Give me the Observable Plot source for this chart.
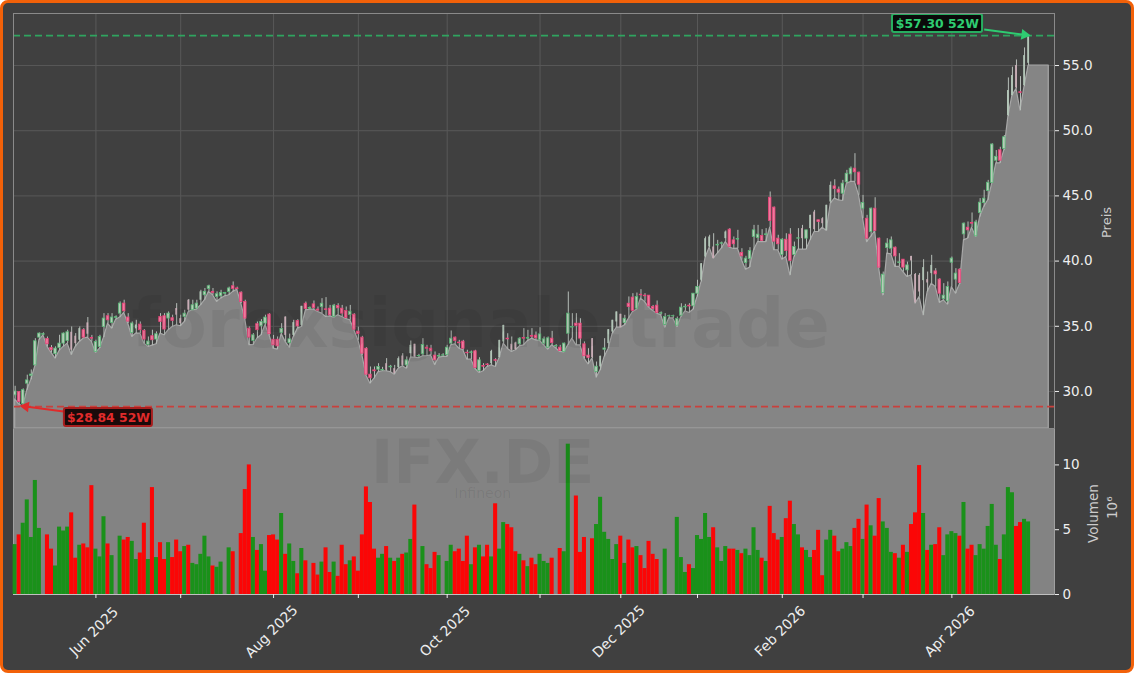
<!DOCTYPE html>
<html><head><meta charset="utf-8">
<script src="https://cdn.jsdelivr.net/npm/d3@7"></script>
<script src="https://cdn.jsdelivr.net/npm/@observablehq/plot@0.6"></script>
<style>
html,body{margin:0;padding:0;background:#fff}
#chart{position:relative;width:1134px;height:673px;background:#404040;border:3px solid #f26109;border-radius:8px;box-sizing:border-box;overflow:hidden}
#chart svg{position:absolute;left:-3px;display:block;max-width:none}
</style></head><body><div id="chart"></div>
<script>
const opens=[29.7,29.95,29.05,30.6,31.2,32,34.13,34.35,34.03,33.34,
32.86,33.34,33.67,33.88,34.54,34.24,33.93,34.7,35.26,34.1,
33.03,33.42,34.95,35.77,35.26,35.65,35.97,36.74,35.67,34.49,
34.8,35.13,34.65,33.57,34.24,33.98,35.72,35.77,35.59,35.62,
36.36,35.59,35.72,37.0,36.23,36.36,37.0,37.38,37.87,37.64,
37.25,37.3,37.5,37.64,38.07,37.9,37.58,36.87,34.82,33.88,
35.16,35.0,35.21,35.9,33.97,33.97,34.5,35.71,33.7,34.3,
35.4,35.07,36.73,36.35,36.68,36.28,36.48,36.3,36.35,35.71,
36.55,36.35,36.17,35.87,35.89,34.59,34.13,33.28,31.29,31.62,
31.67,31.62,32.13,31.85,31.75,31.83,32.72,32.0,32.9,33.62,
32.7,32.85,33.36,33.28,32.75,32.68,32.75,32.8,33.67,34.13,
33.75,33.82,32.97,32.96,33.08,31.57,31.95,32.07,32.13,32.4,
32.59,33.8,34.05,33.62,33.72,33.62,34.1,34.05,34.25,34.28,
33.92,33.67,33.36,34.05,33.46,33.36,33.03,34.43,34.9,35.2,
35.2,33.62,32.75,34.05,31.5,31.88,33.2,33.67,34.56,35.33,
35.92,35.25,36.73,37.2,36.35,37.42,37.35,37.35,36.48,36.58,
35.97,35.1,35.76,35.76,35.05,35.81,36.45,36.58,36.53,37.5,
38.53,40.31,41.08,41.08,41.2,41.33,41.72,42.41,41.59,41.65,
40.62,39.85,40.16,41.85,41.77,41.92,42.0,44.86,44.1,41.72,
40.47,41.64,42.03,40.47,41.72,42.49,41.72,42.49,43.76,43.13,
43.25,42.36,44.53,45.73,45.48,45.17,46.04,46.65,47.09,46.78,
44.02,43.25,42.23,44.02,41.72,37.55,41.0,40.95,41.03,39.85,
40.11,39.29,40.36,38.98,38.91,38.5,38.58,39.04,39.21,38.58,
37.09,36.91,39.88,38.58,39.34,42.05,42.56,42.92,41.9,43.69,
44.45,45.37,46.0,47.7,48.5,48.6,51.16,52.69,55.0,52.95,53.46,55.17];
const closes=[30.0,29.2,30.1,30.85,31.3,33.85,34.44,34.4,33.62,33.16,
33.29,33.67,34.44,34.54,33.16,33.67,34.82,34.13,34.39,34.05,
33.8,34.18,35.59,35.46,35.67,35.7,36.74,36.15,35.36,35.21,
35.1,34.7,33.98,33.83,33.93,34.39,35.33,34.75,35.97,35.41,
35.85,35.21,35.97,36.23,36.61,36.74,37.64,37.64,38.07,37.56,
37.46,37.56,37.55,37.9,37.87,37.85,36.87,35.59,34.13,34.31,
34.7,35.33,35.67,34.39,33.54,33.46,34.8,34.3,34.0,35.28,
34.99,36.53,36.32,36.4,36.4,36.2,36.73,36.25,35.84,36.58,
36.38,35.97,35.64,36.12,34.74,34.41,32.9,31.29,31.01,31.55,
31.88,31.65,31.62,31.9,31.37,32.52,32.0,32.39,33.54,32.65,
32.72,33.56,33.28,33.08,32.39,32.72,32.77,33.36,34.05,33.87,
33.7,33.28,32.93,33.0,31.8,32.39,31.9,32.02,33.08,32.35,
33.92,35.07,34.0,33.16,33.21,34.05,34.05,34.1,34.2,34.08,
34.38,34.0,34.08,33.72,33.48,33.1,33.67,35.97,34.95,35.02,
34.05,32.7,32.58,32.59,31.9,32.7,33.3,34.74,35.46,36.1,
34.89,35.58,36.48,36.17,37.25,37.38,37.3,36.53,36.33,36.02,
36.0,35.71,35.78,35.78,35.56,36.43,36.5,36.52,37.5,38.01,
39.8,41.72,41.85,40.19,41.25,41.37,42.23,41.08,41.29,41.7,
40.37,40.19,40.77,42.36,42.03,41.54,42.05,43.07,41.49,41.29,
41.64,40.77,40.01,41.08,41.75,41.72,42.36,43.51,42.41,43.0,
42.87,44.28,45.81,45.53,45.25,45.94,46.7,47.09,46.81,45.86,
44.45,41.72,44.02,42.31,39.5,38.96,41.34,41.59,40.36,39.9,
39.5,39.67,40.01,36.79,37.63,39.5,38.32,39.67,38.98,37.5,
37.35,38.01,40.19,39.04,38.32,42.87,42.36,42.87,42.97,44.48,
44.79,46.01,48.94,48.0,47.7,49.5,53.08,54.23,53.28,52.9,55.76,57.22];
const highs=[30.4,30.0,30.2,31.25,31.65,34.05,34.49,34.5,34.18,33.52,
33.42,34.31,34.49,34.7,34.95,34.44,34.95,34.82,35.67,34.3,
33.93,34.31,35.97,35.97,35.97,35.8,36.87,37.0,35.97,35.33,
35.46,35.33,34.75,34.18,34.7,34.57,35.97,35.97,36.1,35.85,
36.74,35.85,36.23,37.05,37.0,37.0,37.76,37.9,38.15,37.9,
37.64,37.76,37.6,38.0,38.4,38.0,37.64,37.0,34.95,34.44,
35.33,35.51,35.85,35.97,34.3,34.18,35.2,35.71,34.4,35.46,
35.51,36.53,36.86,36.48,36.94,36.48,37.12,37.2,36.6,36.68,
36.73,36.6,36.48,36.6,35.97,34.94,34.23,33.36,31.88,31.88,
32.13,31.85,32.52,32.0,32.0,32.65,32.9,32.65,33.87,33.62,
32.85,34.05,33.54,33.54,33.03,32.9,32.9,33.54,34.64,34.18,
33.92,33.92,33.16,33.1,33.16,32.59,32.13,32.13,33.16,32.52,
33.92,35.07,34.43,34.18,33.78,34.13,34.82,34.69,34.82,34.56,
34.89,34.18,34.18,34.61,33.6,33.54,33.72,37.63,35.97,35.97,
35.58,33.8,33.28,34.05,32.26,32.7,34.05,34.74,35.46,36.1,
35.92,35.84,37.25,37.5,37.55,37.81,37.5,37.35,36.6,36.94,
36.1,35.97,35.85,35.85,35.71,36.73,36.68,36.73,37.5,38.53,
39.8,41.85,41.98,42.1,41.59,41.46,42.31,42.49,41.85,42.36,
40.95,40.37,41.03,42.74,42.74,42.41,42.49,45.3,44.15,41.98,
41.72,42.1,42.49,41.46,42.49,42.74,42.36,43.51,43.89,43.13,
43.33,44.28,46.07,46.24,45.68,46.19,46.96,47.22,48.24,46.83,
45.04,43.51,44.07,44.86,41.77,39.16,41.72,41.85,41.08,40.57,
40.11,39.92,40.36,39.04,39.04,40.11,39.16,40.44,39.42,38.65,
38.27,38.4,40.31,39.42,39.42,42.92,43.0,43.69,43.13,44.79,
45.43,46.19,49.0,48.48,48.73,49.63,54.05,54.87,55.43,54.15,56.35,57.3];
const lows=[29.4,29.0,28.84,30.1,30.9,31.95,33.93,34.3,33.42,32.96,
32.52,33.11,33.42,33.67,32.8,33.42,33.8,34.06,34.13,33.8,
32.96,33.29,34.13,35.21,34.82,35.5,35.67,36.03,35.21,34.18,
34.44,34.44,33.67,33.42,33.52,33.62,34.44,34.31,34.7,34.95,
35.08,35.0,35.33,36.1,36.23,36.28,36.61,37.0,37.64,37.38,
36.87,37.12,37.3,37.38,37.64,37.8,36.74,35.51,33.55,33.55,
34.06,34.31,35.08,34.31,33.28,33.21,34.4,33.79,33.36,34.18,
34.82,34.94,36.22,36.27,36.27,36.1,35.97,35.71,35.76,35.66,
35.84,35.71,35.56,35.46,34.69,33.92,32.77,31.21,30.6,30.98,
31.49,31.55,31.55,31.49,31.29,31.75,31.93,31.75,32.59,32.59,
32.55,32.7,32.7,32.77,32.03,32.59,32.65,32.65,33.54,33.62,
33.28,33.16,32.44,32.44,31.72,31.42,31.55,31.88,32.0,31.88,
32.59,33.67,33.28,33.03,33.16,33.46,33.54,33.87,34.05,33.92,
33.87,33.54,33.21,33.54,33.3,33.03,33.0,33.54,34.05,33.54,
33.54,32.52,32.08,32.52,31.06,31.62,32.65,33.28,34.43,34.89,
34.89,35.07,35.58,36.1,36.27,37.12,36.86,36.43,36.17,35.97,
35.85,34.89,35.6,35.6,34.94,35.71,36.15,36.02,36.27,37.25,
38.4,40.26,41.03,40.19,40.57,40.95,41.46,41.03,40.93,40.95,
40.06,39.34,39.5,40.83,41.46,41.46,41.46,42.56,40.83,40.83,
40.11,40.31,38.91,40.31,40.88,40.88,40.88,41.59,42.23,42.23,
42.56,42.31,44.4,44.79,44.66,44.61,45.94,46.07,46.07,45.04,
43.25,41.46,41.85,42.31,39.42,37.37,40.57,40.52,39.55,39.55,
39.16,38.78,38.91,36.74,37.25,35.84,37.63,38.27,38.01,36.79,
36.99,36.66,38.01,37.5,38.22,41.59,41.72,42.56,41.85,43.38,
44.15,44.66,45.95,47.5,47.5,48.5,51.08,52.69,53.2,51.54,53.38,55.0];
const volumes=[3.85,4.6,5.5,7.3,4.4,8.8,5.1,0,4.6,3.5,
2.2,5.2,4.9,5.2,6.3,2.8,3.8,3.9,3.6,8.4,
3.5,2.9,6.0,3.9,3.0,0,4.5,4.2,4.4,4.1,
2.7,3.2,5.5,2.7,8.25,2.85,4.0,2.7,4.0,2.85,
4.2,3.3,3.7,3.8,2.4,2.3,3.1,4.5,2.9,2.2,
2.1,2.5,0,3.6,3.3,0,4.7,8.1,10.0,4.4,
3.4,3.85,1.8,4.55,4.6,4.2,6.25,3.1,3.9,2.55,
1.6,3.55,2.6,0,2.4,1.5,2.5,3.6,1.7,2.5,
1.4,3.8,2.3,2.6,2.9,1.8,4.6,8.3,7.1,3.5,
2.8,3.1,3.7,2.8,2.55,2.8,3.1,3.2,4.25,6.9,
0,3.7,2.3,2.0,3.25,3.0,0,2.55,3.8,3.3,
3.5,2.55,4.5,2.3,3.6,3.8,2.9,3.8,2.9,7.0,
3.5,5.55,5.4,5.15,3.3,3.1,2.6,2.15,2.8,2.3,
3.1,2.55,2.4,2.8,0,3.55,3.3,11.6,0,7.6,
3.25,4.4,0,4.3,5.4,7.5,4.8,4.25,2.7,3.85,
4.5,2.4,4.2,3.6,3.7,3.0,2.0,4.1,3.1,2.7,
0,3.5,0,0,5.95,2.85,1.7,2.3,2.0,4.55,
4.25,6.25,4.4,5.15,3.6,2.55,3.7,3.5,3.5,3.4,
3.15,3.5,3.0,5.15,3.4,2.8,2.55,6.8,4.7,4.2,
4.4,5.85,7.2,5.4,4.6,3.6,3.4,2.85,3.4,4.95,
1.45,4.2,4.95,4.5,3.3,3.5,4.0,3.7,5.1,5.8,
4.25,6.9,5.3,4.5,7.4,5.6,5.1,3.25,3.15,2.8,
3.8,3.25,5.4,6.3,9.95,6.25,3.4,3.8,3.85,5.15,
3.0,4.6,4.85,4.7,4.5,7.1,3.5,3.8,3.0,3.85,
3.5,5.25,6.95,3.8,2.7,4.6,8.25,7.85,5.25,5.55,5.8,5.6];
const mutedDays=[14,15,16,18,30,40,41,43,46,67,69,71,92,94,95,96,98,99,118,120,121,123,124,143,145,147,148,149,150,170,171,172,173,176,195,197,198,200,201,202,222,223,224,225,226,227,246,247,248,250,251];
const plateauDays=[252,253,254,255,256];
const plateauLevel=55;
const priceTicks=[30,35,40,45,50,55];
const volumeTicks=[0,5,10];
const tickDays=[20,41,64,85,107,130,150,169,190,210,232];
const tickLabels=["Jun 2025","","Aug 2025","","Oct 2025","","Dec 2025","","Feb 2026","","Apr 2026"];
const low52=28.84, high52=57.30;

const font="DejaVu Sans";
const xDomain=[-0.41,257.42];
const days=opens.map((o,i)=>({i,o,c:closes[i],h:highs[i],l:lows[i],v:volumes[i],up:closes[i]>=o,muted:mutedDays.includes(i)}));
const areaData=[...days.map(d=>({i:d.i,l:d.l})),...plateauDays.map(i=>({i,l:plateauLevel}))];
const bright=days.filter(d=>!d.muted), muted=days.filter(d=>d.muted);
const priceMin=27.16;
const bw=0.31;

const price=Plot.plot({
  width:1134,height:429,marginLeft:13,marginRight:80,marginTop:13,marginBottom:1,
  x:{domain:xDomain,axis:null},
  y:{domain:[priceMin,58.99],axis:null},
  style:{background:"transparent",fontFamily:font,overflow:"visible"},
  marks:[
    Plot.ruleY(priceTicks,{stroke:"#585858",strokeWidth:1}),
    Plot.ruleX(tickDays,{stroke:"#585858",strokeWidth:1}),
    Plot.areaY(areaData,{x:"i",y1:priceMin,y2:"l",fill:"#858585",stroke:"#a8a8a8",strokeWidth:1.2,curve:"linear"}),
    Plot.ruleX(days,{x:"i",y1:"l",y2:"h",stroke:"#b5bcb7",strokeWidth:1}),
    Plot.rect(muted,{x1:d=>d.i-0.22,x2:d=>d.i+0.22,y1:"o",y2:"c",fill:d=>d.up?"#b3c6b8":"#c9adb6"}),
    Plot.rect(bright,{x1:d=>d.i-bw,x2:d=>d.i+bw,y1:"o",y2:"c",fill:d=>d.up?"#b8ccb9":"#ee7a9c",stroke:d=>d.up?"#5ab878":"#e8447a",strokeWidth:0.8}),
    Plot.text(["forexsignale.trade"],{x:[115.3],y:[35.06],fontSize:67,fontWeight:"bold",fill:"#000",fillOpacity:0.06}),
    Plot.ruleY([high52],{stroke:"#2fa45f",strokeWidth:1.8,strokeDasharray:"7,4"}),
    Plot.ruleY([low52],{stroke:"#c9403c",strokeWidth:1.8,strokeDasharray:"7,4"}),
    Plot.link([{a:240,b:57.76,c:250,d:57.36}],{x1:"a",y1:"b",x2:"c",y2:"d",stroke:"#2ecc71",strokeWidth:2}),
    Plot.dot([{x:250,y:57.36}],{x:"x",y:"y",symbol:"triangle",r:4,rotate:98,fill:"#2ecc71"}),
    Plot.link([{a:12,b:28.47,c:2.6,d:low52}],{x1:"a",y1:"b",x2:"c",y2:"d",stroke:"#e02b2b",strokeWidth:2}),
    Plot.dot([{x:2.6,y:low52}],{x:"x",y:"y",symbol:"triangle",r:4,rotate:-82,fill:"#e02b2b"}),
    Plot.rect([{a:217.3,b:239.6,c:57.53,d:58.91}],{x1:"a",x2:"b",y1:"c",y2:"d",fill:"#0a0a0a",stroke:"#27ae60",strokeWidth:2,rx:2}),
    Plot.text(["$57.30 52W"],{x:[228.4],y:[58.2],fill:"#2ecc71",fontSize:12.4,fontWeight:"bold"}),
    Plot.rect([{a:12.2,b:34,c:27.32,d:28.7}],{x1:"a",x2:"b",y1:"c",y2:"d",fill:"#1a0a0a",stroke:"#a81e1e",strokeWidth:2,rx:2}),
    Plot.text(["$28.84 52W"],{x:[23.1],y:[28.0],fill:"#e02b2b",fontSize:12.4,fontWeight:"bold"}),
    Plot.frame({stroke:"#8a8a8a",strokeWidth:1}),
    Plot.axisY({anchor:"right",ticks:priceTicks,tickFormat:d3.format(".1f"),label:null,tickSize:4,tickPadding:4,color:"#eeeeee",fontSize:13.5}),
    Plot.text(["Preis"],{frameAnchor:"right",y:[42.96],dx:52,rotate:-90,textAnchor:"middle",lineAnchor:"middle",fill:"#cccccc",fontSize:13})
  ]
});
price.style.top="-3.5px";
const volume=Plot.plot({
  width:1134,height:245,marginLeft:13,marginRight:80,marginTop:0,marginBottom:79,
  x:{domain:xDomain,axis:null},
  y:{domain:[0,12.81],axis:null},
  style:{background:"transparent",fontFamily:font,overflow:"visible"},
  marks:[
    Plot.frame({fill:"#838383",stroke:"#a0a0a0",strokeWidth:1}),
    Plot.rect(days.filter(d=>d.v>0),{x1:d=>d.i-0.5,x2:d=>d.i+0.5,y1:0,y2:"v",fill:d=>d.up?"#1a911a":"#fb0606"}),
    Plot.text(["IFX.DE"],{x:[115.8],y:[10.1],fontSize:60,fontWeight:"bold",fill:"#000",fillOpacity:0.06}),
    Plot.text(["Infineon"],{x:[115.8],y:[7.8],fontSize:14,fill:"#000",fillOpacity:0.07}),
    Plot.ruleY([0],{stroke:"#c0c0c0",strokeWidth:1}),
    Plot.axisY({anchor:"right",ticks:volumeTicks,tickFormat:d3.format("d"),label:null,tickSize:4,tickPadding:4,color:"#eeeeee",fontSize:13.5}),
    Plot.axisX({ticks:tickDays,tickFormat:()=>"",label:null,tickSize:4,color:"#eeeeee"}),
    Plot.text(tickDays.map((d,k)=>({d,t:tickLabels[k]})).filter(r=>r.t),{x:"d",text:"t",frameAnchor:"bottom",lineAnchor:"middle",textAnchor:"middle",dy:37,dx:-2,rotate:-45,fill:"#eeeeee",fontSize:14}),
    Plot.text(["Volumen"],{frameAnchor:"right",y:[6.25],dx:39,rotate:-90,textAnchor:"middle",lineAnchor:"middle",fill:"#cccccc",fontSize:13.5}),
    Plot.text(["10⁶"],{frameAnchor:"right",y:[6.7],dx:58,rotate:-90,textAnchor:"middle",lineAnchor:"middle",fill:"#cccccc",fontSize:13.5})
  ]
});
volume.style.top="425px";
const root=document.getElementById("chart");
root.append(volume,price);
</script></body></html>
